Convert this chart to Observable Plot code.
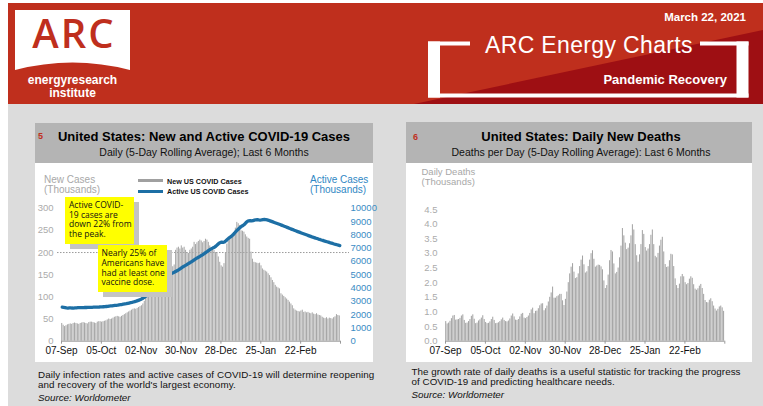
<!DOCTYPE html>
<html><head><meta charset="utf-8">
<script src="https://cdn.jsdelivr.net/npm/d3@7"></script>
<script src="https://cdn.jsdelivr.net/npm/@observablehq/plot@0.6"></script>
<style>
html,body{margin:0;padding:0;}
body{width:763px;height:406px;position:relative;overflow:hidden;background:#fff;font-family:"Liberation Sans",Arial,sans-serif;}
.a{position:absolute;white-space:nowrap;}
.panelhead{position:absolute;background:#b4b4b4;}
.panelbody{position:absolute;background:#fff;}
.note{position:absolute;background:#ffff00;box-shadow:5px 5px 0 #c4c4c4;font-family:"Comic Sans MS","Open Sans",sans-serif;font-size:8.5px;line-height:9.6px;color:#111;white-space:nowrap;box-sizing:border-box;}
.chart{position:absolute;}
.chart svg{overflow:visible;}
</style></head>
<body>
<!-- page background -->
<div class="a" style="left:8px;top:3px;width:755px;height:403px;background:#dcdcdc"></div>
<svg class="a" style="left:0;top:0" width="763" height="105">
  <rect x="8" y="3" width="755" height="101" fill="#bf2f1d"/>
  <polygon points="414,104 763,30 763,104" fill="#9e0f13"/>
  <path d="M15,10 H130 V70 Q72.5,55 15,70 Z" fill="#fff"/>
  <text x="74" y="48" text-anchor="middle" fill="#bf2f1d" font-family="Open Sans, Liberation Sans, sans-serif" font-size="40" font-weight="600" letter-spacing="2">ARC</text>
  <rect x="428" y="41.5" width="42" height="4" fill="#fff"/>
  <rect x="428" y="41.5" width="12" height="56" fill="#fff"/>
  <rect x="428" y="93.5" width="320.5" height="4" fill="#fff"/>
  <rect x="736.5" y="41.5" width="12" height="56" fill="#fff"/>
  <rect x="700" y="41.5" width="48.5" height="4" fill="#fff"/>
</svg>
<div class="a" style="left:15px;width:115px;top:73.5px;text-align:center;color:#fff;font-weight:bold;font-size:12px;line-height:12px">energyresearch</div>
<div class="a" style="left:15px;width:115px;top:86.5px;text-align:center;color:#fff;font-weight:bold;font-size:12px;line-height:12px">institute</div>
<div class="a" style="left:596px;width:150px;top:10px;text-align:right;color:#fff;font-weight:bold;font-size:11.5px;line-height:14px">March 22, 2021</div>
<div class="a" style="left:470px;width:240px;top:33px;text-align:left;color:#fff;font-size:23px;line-height:25px;letter-spacing:0.35px;padding-left:15px;box-sizing:border-box">ARC Energy Charts</div>
<div class="a" style="left:560px;width:167px;top:72px;text-align:right;color:#fff;font-weight:bold;font-size:13px;line-height:15px">Pandemic Recovery</div>

<!-- left panel -->
<div class="panelhead" style="left:35px;top:123px;width:338px;height:40px"></div>
<div class="panelbody" style="left:35px;top:163px;width:338px;height:199px"></div>
<div class="a" style="left:38px;top:131px;color:#c0301e;font-weight:bold;font-size:9px;line-height:11px">5</div>
<div class="a" style="left:35px;width:338px;top:128.7px;text-align:center;color:#000;font-weight:bold;font-size:13px;line-height:16px">United States: New and Active COVID-19 Cases</div>
<div class="a" style="left:35px;width:338px;top:146.3px;text-align:center;color:#111;font-size:10.5px;line-height:12px">Daily (5-Day Rolling Average); Last 6 Months</div>
<div class="a" style="left:44px;top:174.5px;color:#a8a8a8;font-size:10px;line-height:10.7px">New Cases<br>(Thousands)</div>
<div class="a" style="left:138px;top:178.5px;width:25px;height:3.5px;background:#a0a0a0"></div>
<div class="a" style="left:138px;top:189.8px;width:25px;height:3px;background:#1d6fa5"></div>
<div class="a" style="left:167px;top:176.5px;color:#111;font-weight:bold;font-size:7.2px;line-height:9px">New US COVID Cases</div>
<div class="a" style="left:167px;top:187px;color:#111;font-weight:bold;font-size:7.2px;line-height:9px">Active US COVID Cases</div>
<div class="a" style="left:310px;top:174.5px;color:#2f87c4;font-size:10px;line-height:10.7px">Active Cases<br>(Thousands)</div>
<div class="chart" id="left" style="left:10px;top:190px"></div>
<div class="note" style="left:65px;top:197px;width:69px;height:47px;padding:3px 0 0 4px">Active COVID-<br>19 cases are<br>down 22% from<br>the peak.</div>
<div class="note" style="left:98px;top:245px;width:69px;height:47px;padding:3.4px 0 0 3.5px">Nearly 25% of<br>Americans have<br>had at least one<br>vaccine dose.</div>
<div class="a" style="left:38px;top:369.8px;color:#111;font-size:9.8px;line-height:9.8px;letter-spacing:0.1px">Daily infection rates and active cases of COVID-19 will determine reopening</div>
<div class="a" style="left:38px;top:380px;color:#111;font-size:9.8px;line-height:9.8px;letter-spacing:0.1px">and recovery of the world's largest economy.</div>
<div class="a" style="left:38px;top:391.5px;color:#111;font-size:9.8px;line-height:11px;font-style:italic">Source: Worldometer</div>

<!-- right panel -->
<div class="panelhead" style="left:406px;top:122px;width:346px;height:41px"></div>
<div class="panelbody" style="left:406px;top:163px;width:346px;height:199px"></div>
<div class="a" style="left:413px;top:132px;color:#c0301e;font-weight:bold;font-size:9px;line-height:11px">6</div>
<div class="a" style="left:410px;width:342px;top:128.7px;text-align:center;color:#000;font-weight:bold;font-size:13px;line-height:16px">United States: Daily New Deaths</div>
<div class="a" style="left:410px;width:342px;top:146.3px;text-align:center;color:#111;font-size:10.5px;line-height:12px">Deaths per Day (5-Day Rolling Average): Last 6 Months</div>
<div class="a" style="left:421.5px;top:166.5px;color:#a8a8a8;font-size:9.5px;line-height:10.7px">Daily Deaths<br>(Thousands)</div>
<div class="chart" id="right" style="left:395px;top:190px"></div>
<div class="a" style="left:411.5px;top:366.6px;color:#111;font-size:9.8px;line-height:9.8px;letter-spacing:0.05px">The growth rate of daily deaths is a useful statistic for tracking the progress</div>
<div class="a" style="left:411.5px;top:376.8px;color:#111;font-size:9.8px;line-height:9.8px;letter-spacing:0.05px">of COVID-19 and predicting healthcare needs.</div>
<div class="a" style="left:411.5px;top:388.5px;color:#111;font-size:9.8px;line-height:11px;font-style:italic">Source: Worldometer</div>

<script>
// ---- data (first day 2020-09-07, one value per day) ----
const startDay = "2020-09-07";
const newCases = [
 40,36,33,35,37,38,39, 38,40,41,40,39,38,40, 41,42,41,40,39,42,43, 43,42,41,40,43,44,44,
 43,44,45,46,48,50,49, 50,52,54,55,56,55,54, 56,58,60,62,64,66,68, 70,72,73,72,74,76,78,
 80,84,90,98,105,110,115, 120,128,135,142,150,155,158, 160,165,170,172,175,178,172, 170,168,172,205,210,212,208,
 215,210,212,205,200,198,205, 208,212,223,218,222,225,228, 226,222,225,230,228,223,215, 210,208,205,200,198,190,178,
 170,167,175,200,219,225,230, 236,240,242,255,268,265,261, 249,248,246,240,235,232,230, 201,185,178,177,176,175,176,
 170,163,160,158,156,152,148, 143,137,132,126,122,120,118, 107,104,101,98,95,92,88, 84,80,73,70,68,67,66,
 68,70,65,66,64,65,63, 62,64,61,60,62,59,58, 57,54,52,51,53,50,52, 51,50,53,55,60,58,57];
const activeCases = [
 2556,2540,2520,2500,2490,2500,2510, 2495,2490,2500,2510,2520,2530,2525, 2520,2530,2540,2535,2540,2550,2545, 2550,2555,2560,2555,2560,2570,2575,
 2580,2590,2600,2610,2620,2640,2650, 2660,2675,2690,2700,2710,2730,2745, 2760,2780,2800,2820,2845,2870,2895, 2920,2950,2980,3010,3050,3090,3130,
 3190,3250,3320,3400,3490,3580,3670, 3760,3860,3960,4060,4160,4260,4360, 4460,4560,4660,4760,4860,5000,5060, 5100,5150,5200,5260,5320,5380,5450,
 5530,5600,5660,5720,5790,5860,5920, 5990,6060,6130,6200,6270,6330,6400, 6460,6530,6600,6680,6750,6830,6900, 6960,7020,7070,7150,7250,7350,7420,
 7450,7430,7460,7550,7650,7750,7820, 7900,8000,8120,8250,8350,8450,8550, 8640,8700,8780,8900,9000,9050,9060, 9040,9060,9100,9130,9140,9120,9110,
 9120,9140,9150,9140,9120,9090,9050, 9010,8970,8930,8890,8850,8810,8770, 8730,8690,8640,8600,8560,8520,8470, 8430,8390,8340,8300,8260,8220,8180,
 8140,8100,8060,8020,7980,7940,7900, 7860,7820,7790,7750,7720,7680,7650, 7610,7580,7540,7510,7480,7450,7410, 7380,7350,7310,7280,7250,7220,7190];
const dailyDeaths = [
 0.67,0.59,0.62,0.68,0.77,0.86,0.88, 0.72,0.73,0.74,0.78,0.86,0.90,0.71, 0.61,0.62,0.67,0.74,0.85,0.90,0.75, 0.60,0.62,0.69,0.73,0.79,0.87,0.74,
 0.64,0.60,0.61,0.66,0.74,0.82,0.71, 0.60,0.61,0.63,0.67,0.73,0.79,0.71, 0.67,0.66,0.69,0.76,0.86,0.93,0.83, 0.72,0.71,0.74,0.83,0.92,0.95,0.79,
 0.77,0.81,0.86,0.95,1.07,1.13,0.94, 1.02,1.03,1.11,1.21,1.27,1.28,1.04, 1.11,1.20,1.34,1.50,1.65,1.85,1.47, 1.47,1.52,1.55,1.60,1.60,1.38,1.22,
 1.43,1.68,2.00,2.30,2.53,2.65,2.36, 2.14,2.17,2.30,2.55,2.77,2.91,2.61, 2.33,2.37,2.55,2.77,2.99,3.09,2.80, 2.53,2.57,2.60,2.59,2.54,2.44,2.06,
 1.80,1.90,2.26,2.75,3.10,3.05,2.64, 2.30,2.35,2.50,2.85,3.25,3.85,3.60, 3.35,3.13,3.18,3.33,3.60,3.98,3.80, 3.30,2.92,2.70,2.95,3.30,3.78,3.65,
 3.20,3.08,3.15,3.30,3.62,3.80,3.30, 2.90,2.85,3.00,3.25,3.45,3.55,3.05, 2.62,2.52,2.54,2.75,2.97,2.95,2.55, 2.13,1.90,1.80,1.95,2.20,2.28,2.20,
 2.00,1.93,1.97,2.12,2.20,2.15,1.93, 1.78,1.74,1.79,1.88,1.94,1.80,1.60, 1.39,1.32,1.31,1.40,1.45,1.35,1.20, 1.10,1.03,1.09,1.17,1.20,1.14,1.02];
const dateTicks = ["2020-09-07","2020-10-05","2020-11-02","2020-11-30","2020-12-28","2021-01-25","2021-02-22","2021-03-22"];
const casesTicks = [0,50,100,150,200,250,300];
const activeTicks = [0,1000,2000,3000,4000,5000,6000,7000,8000,9000,10000];
const deathTicks = [0,0.5,1.0,1.5,2.0,2.5,3.0,3.5,4.0,4.5];
const refLine = [200];

// ---- build ----
const DAY = 864e5;
const t0 = Date.parse(startDay + "T00:00:00Z");
const rows = newCases.map((v, i) => ({date: new Date(t0 + i * DAY), cases: v, active: activeCases[i], deaths: dailyDeaths[i]}));
const ticks = dateTicks.map(s => new Date(s + "T00:00:00Z"));
const xDomain = [new Date(t0), ticks[ticks.length - 1]];
const fmt = d3.utcFormat("%d-%b");
const xFmt = d => (+d === +ticks[ticks.length - 1] ? "" : fmt(d));
const k = 300 / 10000;
const baseStyle = {background: "transparent", fontFamily: "Liberation Sans, Arial, sans-serif", fontSize: "10px", overflow: "visible"};

const left = Plot.plot({
  width: 365, height: 170, marginLeft: 51, marginRight: 35, marginTop: 17.7, marginBottom: 19.3,
  style: baseStyle,
  x: {type: "utc", domain: xDomain},
  y: {domain: [0, 300]},
  marks: [
    Plot.ruleY(refLine, {stroke: "#9a9a9a", strokeDasharray: "1.5,1.5", insetLeft: -4, insetRight: -9}),
    Plot.rectY(rows, {x: "date", interval: "day", y: "cases", fill: "#a7a7a7", insetLeft: 0.2, insetRight: 0.2}),
    Plot.ruleY([0], {stroke: "#999"}),
    Plot.line(rows, {x: d => new Date(+d.date + DAY / 2), y: d => d.active * k, stroke: "#1d6fa5", strokeWidth: 3.3, curve: "linear"}),
    Plot.axisX({ticks: ticks, tickFormat: xFmt, tickSize: 3, tickPadding: 2.5, stroke: "#999", fill: "#111", label: null, fontSize: 10}),
    Plot.axisY({ticks: casesTicks, tickSize: 0, tickPadding: 8, fill: "#ababab", label: null, fontSize: 9.5}),
    Plot.axisY({ticks: activeTicks.map(t => t * k), anchor: "right", tickSize: 0, tickPadding: 10, fill: "#3a8cc4", label: null, fontSize: 9.5, tickFormat: d => String(Math.round(d / k))})
  ]
});
document.getElementById("left").appendChild(left);

const right = Plot.plot({
  width: 345, height: 170, marginLeft: 50, marginRight: 15.7, marginTop: 19, marginBottom: 19.3,
  style: baseStyle,
  x: {type: "utc", domain: xDomain},
  y: {domain: [0, 4.5]},
  marks: [
    Plot.rectY(rows, {x: "date", interval: "day", y: "deaths", fill: "#a3a3a3", insetLeft: 0.2, insetRight: 0.2}),
    Plot.ruleY([0], {stroke: "#999"}),
    Plot.axisX({ticks: ticks, tickFormat: xFmt, tickSize: 3, tickPadding: 2.5, stroke: "#999", fill: "#111", label: null, fontSize: 10}),
    Plot.axisY({ticks: deathTicks, tickSize: 0, tickPadding: 8, fill: "#ababab", label: null, fontSize: 9.5, tickFormat: d3.format(".1f")})
  ]
});
document.getElementById("right").appendChild(right);
</script>
</body></html>
